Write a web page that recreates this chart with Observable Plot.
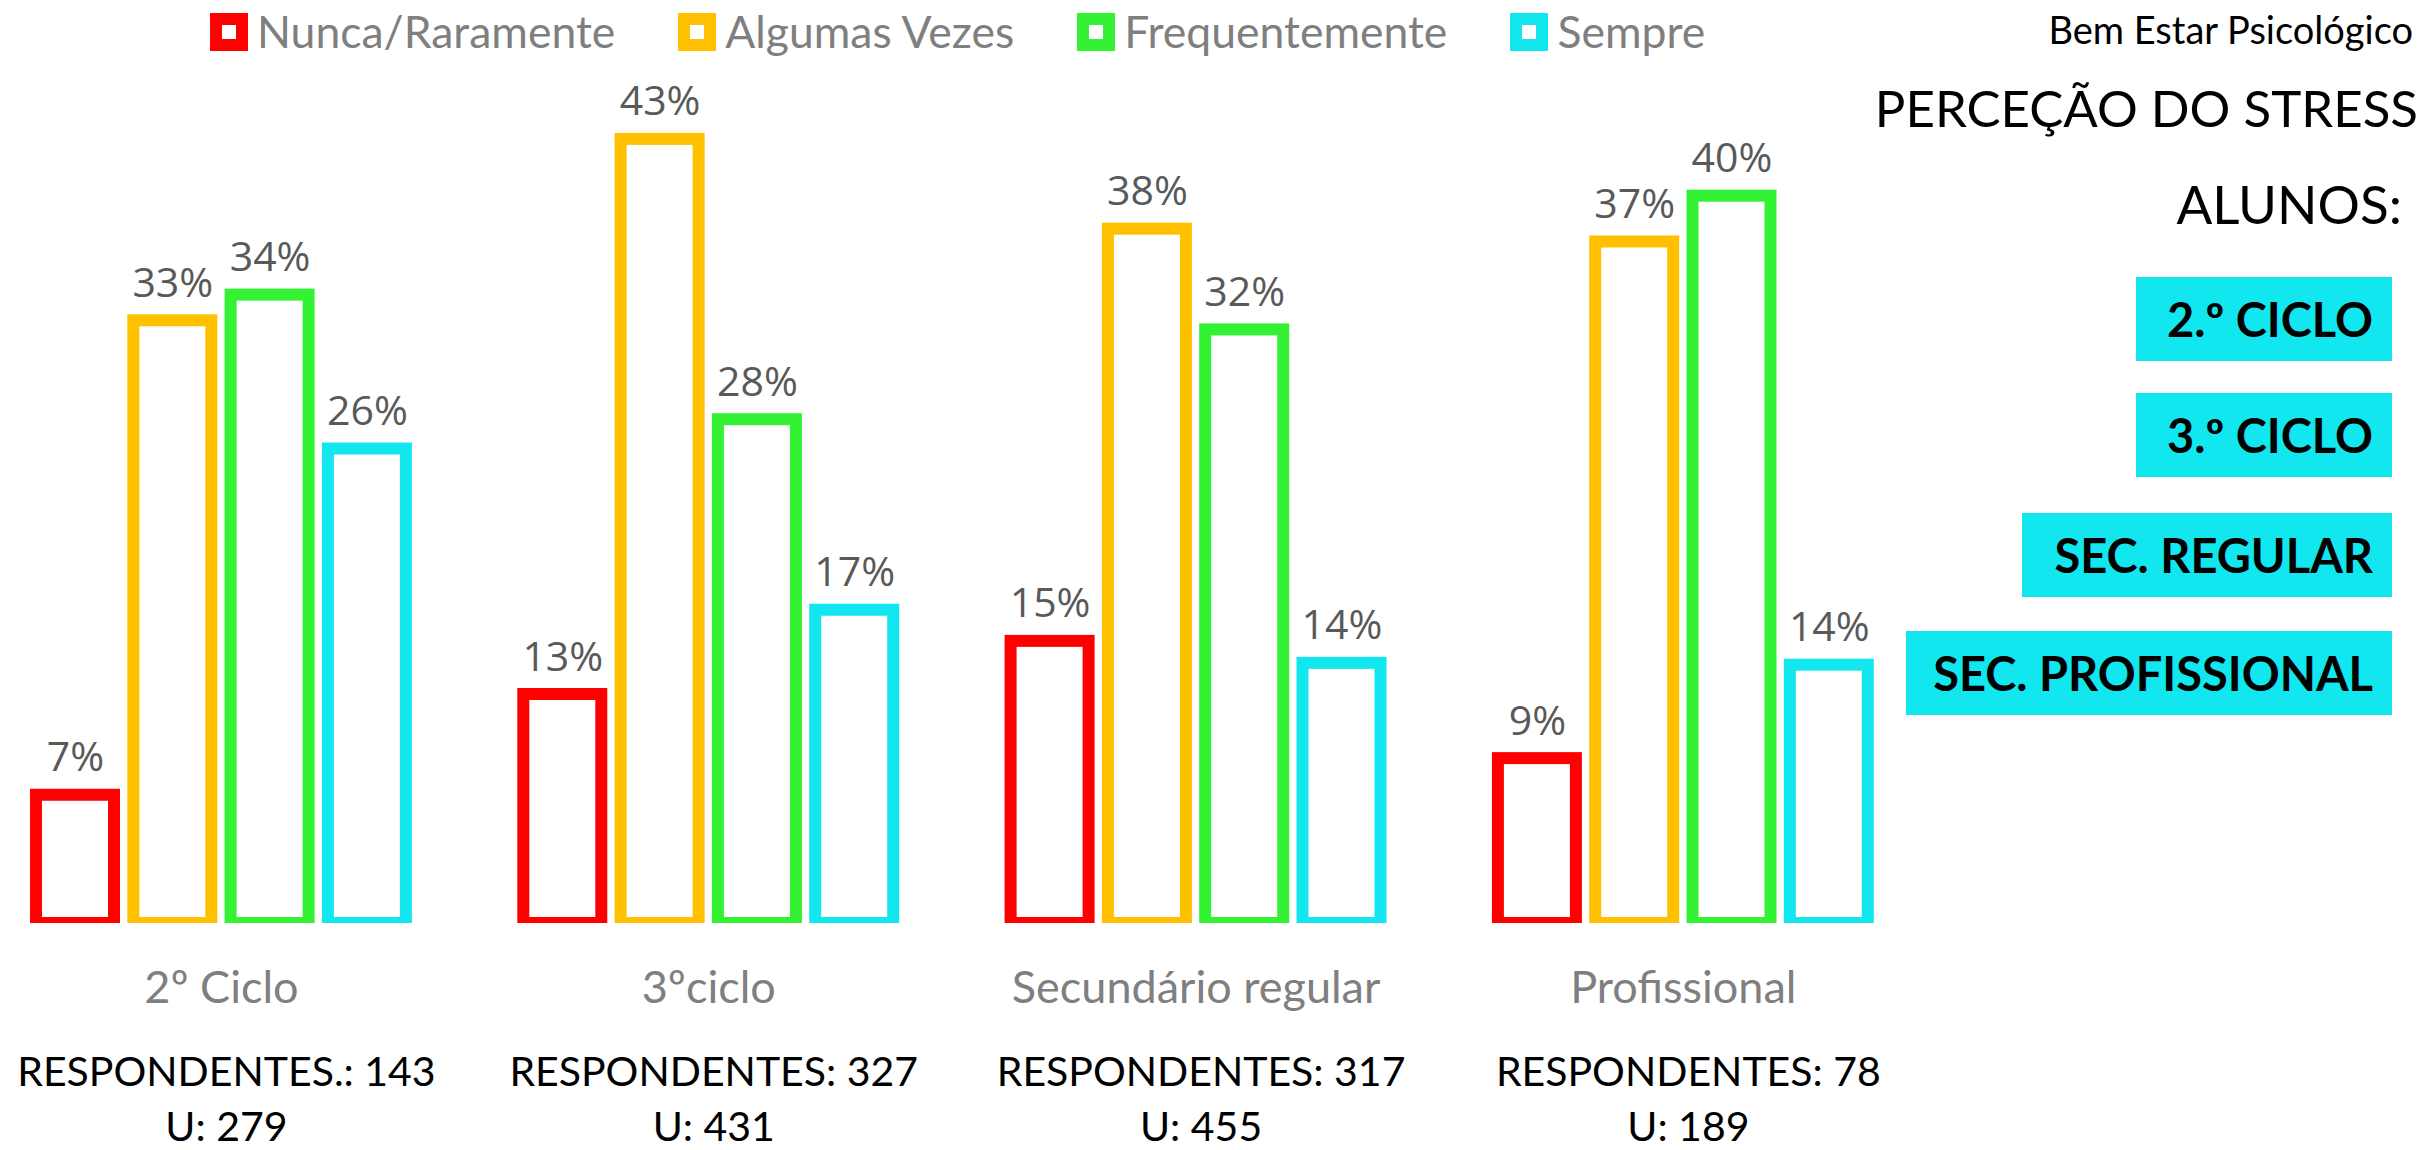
<!DOCTYPE html>
<html>
<head>
<meta charset="utf-8">
<script src="https://cdn.jsdelivr.net/npm/d3@7"></script>
<script src="https://cdn.jsdelivr.net/npm/@observablehq/plot@0.6"></script>
<style>
  html, body { margin: 0; padding: 0; background: #fff; }
  #page { position: relative; width: 2425px; height: 1150px; overflow: hidden; background: #fff; }
  #legend { height: 72px; box-sizing: border-box; padding-left: 210px; padding-top: 13px; display: flex; align-items: flex-start; font-family: Lato, sans-serif; }
  .item { display: flex; align-items: flex-start; margin-right: 63px; }
  .swatch { width: 38px; height: 38px; box-sizing: border-box; border: 12px solid; background: #fff; }
  .ltext { margin-left: 9px; font-size: 44.5px; line-height: 38px; color: #7f7f7f; margin-top: -1.5px; white-space: nowrap; }
  #chart svg { display: block; }
  .side { position: absolute; font-family: Lato, sans-serif; color: #000; white-space: nowrap; }
  .box { position: absolute; right: 33px; height: 84px; background: #12E6EF; font-family: Lato, sans-serif; font-weight: 700; font-size: 47px; line-height: 84px; text-align: right; box-sizing: border-box; padding-right: 19px; color: #000; white-space: nowrap; }
</style>
</head>
<body>
<div id="page">
  <div id="legend"></div>
  <div id="chart"></div>
  <div id="side"></div>
  <div id="boxes"></div>
</div>
<script>
// ---- data ----
const groups = ["2º Ciclo", "3ºciclo", "Secundário regular", "Profissional"];
const categories = ["Nunca/Raramente", "Algumas Vezes", "Frequentemente", "Sempre"];
const colors = ["#FF0000", "#FFC000", "#33F233", "#12E6EF"];
const nunca = [7.0, 12.5, 15.4, 9.0];
const algumas = [32.9, 42.8, 37.9, 37.2];
const frequentemente = [34.3, 27.5, 32.4, 39.7];
const sempre = [25.9, 17.1, 14.2, 14.1];
const respondentes = ["RESPONDENTES.: 143", "RESPONDENTES: 327", "RESPONDENTES: 317", "RESPONDENTES: 78"];
const universo = [279, 431, 455, 189];
const sideTitles = ["Bem Estar Psicológico", "PERCEÇÃO DO STRESS", "ALUNOS:"];
const sideBoxes = ["2.º CICLO", "3.º CICLO", "SEC. REGULAR", "SEC. PROFISSIONAL"];

const series = [nunca, algumas, frequentemente, sempre];
const rows = groups.flatMap((g, i) => categories.map((c, j) => ({
  group: g, cat: c, value: series[j][i], resp: respondentes[i], u: universo[i]
})));

// ---- legend ----
const legend = document.getElementById("legend");
categories.forEach((c, j) => {
  const it = document.createElement("div");
  it.className = "item";
  const sw = document.createElement("div");
  sw.className = "swatch";
  sw.style.borderColor = colors[j];
  const tx = document.createElement("div");
  tx.className = "ltext";
  tx.textContent = c;
  it.appendChild(sw); it.appendChild(tx);
  legend.appendChild(it);
});

// ---- side titles ----
const sideLayout = [
  {right: 12, top: 4, size: 38, lh: 50},
  {right: 7, top: 77, size: 51, lh: 62},
  {right: 23, top: 172, size: 53, lh: 64}
];
const side = document.getElementById("side");
sideTitles.forEach((t, i) => {
  const d = document.createElement("div");
  d.className = "side";
  d.style.right = sideLayout[i].right + "px";
  d.style.top = sideLayout[i].top + "px";
  d.style.fontSize = sideLayout[i].size + "px";
  d.style.lineHeight = sideLayout[i].lh + "px";
  d.textContent = t;
  side.appendChild(d);
});

// ---- side panel boxes ----
const boxLayout = [
  {top: 277, width: 256},
  {top: 393, width: 256},
  {top: 513, width: 370},
  {top: 631, width: 486}
];
const boxes = document.getElementById("boxes");
sideBoxes.forEach((t, i) => {
  const b = document.createElement("div");
  b.className = "box";
  b.style.top = boxLayout[i].top + "px";
  b.style.width = boxLayout[i].width + "px";
  b.textContent = t;
  boxes.appendChild(b);
});

// ---- chart ----
const W = 1900, H = 1078;
const chart = Plot.plot({
  width: W,
  height: H,
  marginLeft: 26.35,
  marginRight: 22.55,
  marginTop: 26.6,
  marginBottom: 227,
  facet: {data: rows, x: "group"},
  fx: {domain: groups, paddingInner: 0.2013, paddingOuter: 0, round: false, axis: null, label: null},
  x: {domain: categories, paddingInner: 0, paddingOuter: 0, round: false, axis: null, label: null},
  y: {domain: [0, 45], axis: null, label: null},
  color: {domain: categories, range: colors},
  marks: [
    Plot.barY(rows, {
      x: "cat", y: "value", stroke: "cat", fill: "white", strokeWidth: 12,
      insetLeft: 9.65, insetRight: 9.65, clip: true
    }),
    Plot.text(rows, {
      x: "cat", y: "value", text: d => Math.round(d.value) + "%",
      dy: -24, lineAnchor: "bottom", fontSize: 41, fontFamily: "Open Sans", fill: "#595959"
    }),
    Plot.text(rows, {
      filter: d => d.cat === categories[0], frameAnchor: "bottom", text: "group",
      dy: 79.7, lineAnchor: "bottom", fontSize: 45, fontFamily: "Lato", fill: "#7f7f7f"
    }),
    Plot.text(rows, {
      filter: d => d.cat === categories[0], frameAnchor: "bottom",
      text: d => `${d.resp}\nU: ${d.u}`,
      dx: 5, dy: 217, lineAnchor: "bottom", lineHeight: 1.341,
      fontSize: 41, fontFamily: "Lato", fill: "#000"
    })
  ]
});
document.getElementById("chart").appendChild(chart);
</script>
</body>
</html>
